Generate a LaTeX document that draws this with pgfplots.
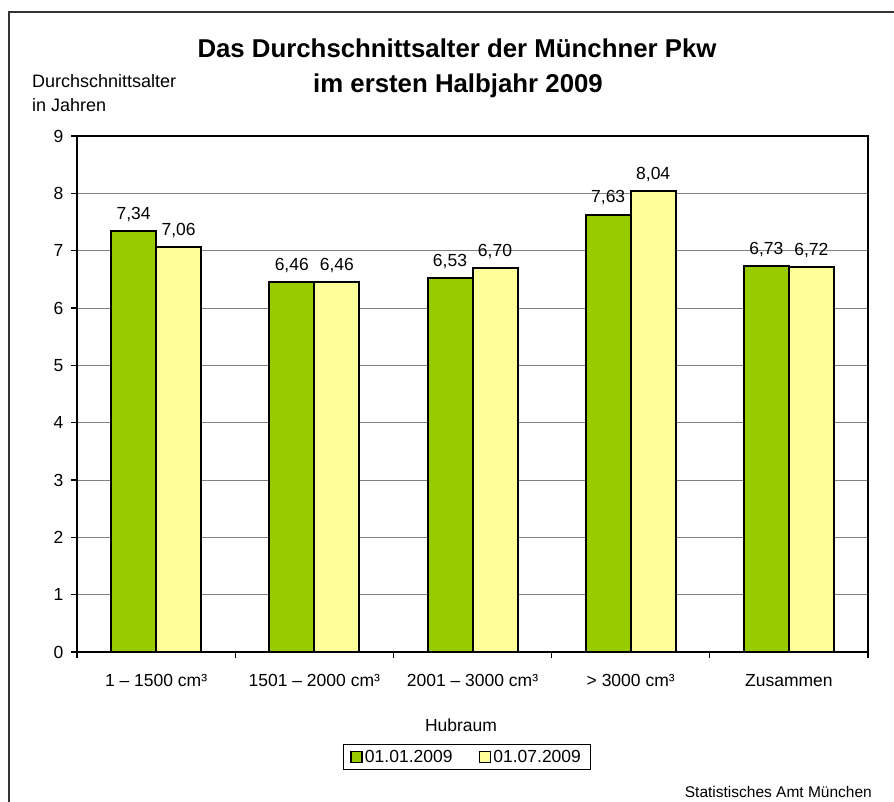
\documentclass[border=0pt]{standalone}
\usepackage{pgfplots}
\pgfplotsset{compat=1.18}
\usepackage{fontspec}
\setmainfont{Liberation Sans}
\definecolor{cgreen}{HTML}{99CC00}
\definecolor{cyellow}{HTML}{FFFF99}
\definecolor{framecol}{HTML}{333333}
\definecolor{gridcol}{HTML}{808080}
\begin{document}
\begin{tikzpicture}[x=1pt,y=1pt]
\useasboundingbox (0,0) rectangle (894,-801);
\draw[framecol, line width=2pt] (9,-802) -- (9,-12) -- (895,-12);
\begin{axis}[
  at={(77pt,-652pt)}, anchor=south west,
  scale only axis, width=791pt, height=516pt,
  ybar=0pt, bar width=45pt,
  xmin=-0.5, xmax=4.5, ymin=0, ymax=9,
  ytick={0,...,9},
  xtick={-0.5,0.5,1.5,2.5,3.5,4.5},
  xticklabels={},
  extra x ticks={0,1,2,3,4},
  extra x tick labels={1 – 1500 cm³, 1501 – 2000 cm³, 2001 – 3000 cm³, > 3000 cm³, Zusammen},
  extra x tick style={tick style={draw=none}, grid=none},
  xtick pos=bottom, ytick pos=left,
  tick align=outside,
  major tick length=6pt,
  tick style={black, line width=1.2pt},
  ymajorgrids,
  grid style={gridcol, line width=0.9pt},
  axis line style={black, line width=2.2pt},
  /pgf/number format/assume math mode=true,
  tick label style={font=\fontsize{17.5}{21}\selectfont},
  xticklabel style={yshift=-13pt},
  yticklabel style={xshift=-4pt},
  nodes near coords={\pgfmathprintnumber[fixed,fixed zerofill,precision=2,use comma,assume math mode=true]{\pgfplotspointmeta}},
  every node near coord/.append style={font=\fontsize{17.5}{21}\selectfont, yshift=5pt, black},
  legend columns=2,
  legend style={at={(0.4925,-0.2035)}, anchor=center, draw=black, line width=0.8pt,
    font=\fontsize{17.5}{21}\selectfont, inner xsep=7pt, inner ysep=4pt,
    /tikz/every even column/.append style={column sep=24pt}},
  legend image code/.code={\draw[#1, line width=1.8pt] (0pt,-5.5pt) rectangle (11pt,5.5pt);},
]
\addplot[fill=cgreen, draw=black, line width=2pt] coordinates {(0,7.34) (1,6.46) (2,6.53) (3,7.63) (4,6.73)};
\addplot[fill=cyellow, draw=black, line width=2pt] coordinates {(0,7.06) (1,6.46) (2,6.70) (3,8.04) (4,6.72)};
\legend{01.01.2009, 01.07.2009}
\end{axis}
\node[anchor=base, font=\fontsize{25.8}{30}\selectfont\bfseries] at (457,-57) {Das Durchschnittsalter der Münchner Pkw};
\node[anchor=base, font=\fontsize{25.8}{30}\selectfont\bfseries] at (458,-92) {im ersten Halbjahr 2009};
\node[anchor=base west, inner sep=0pt, font=\fontsize{18}{21}\selectfont] at (32,-87) {Durchschnittsalter};
\node[anchor=base west, inner sep=0pt, font=\fontsize{18}{21}\selectfont] at (32,-111) {in Jahren};
\node[anchor=center, font=\fontsize{17.5}{21}\selectfont] at (461,-725) {Hubraum};
\node[anchor=base east, inner sep=0pt, font=\fontsize{15.5}{18}\selectfont] at (872,-797) {Statistisches Amt München};
\end{tikzpicture}
\end{document}
